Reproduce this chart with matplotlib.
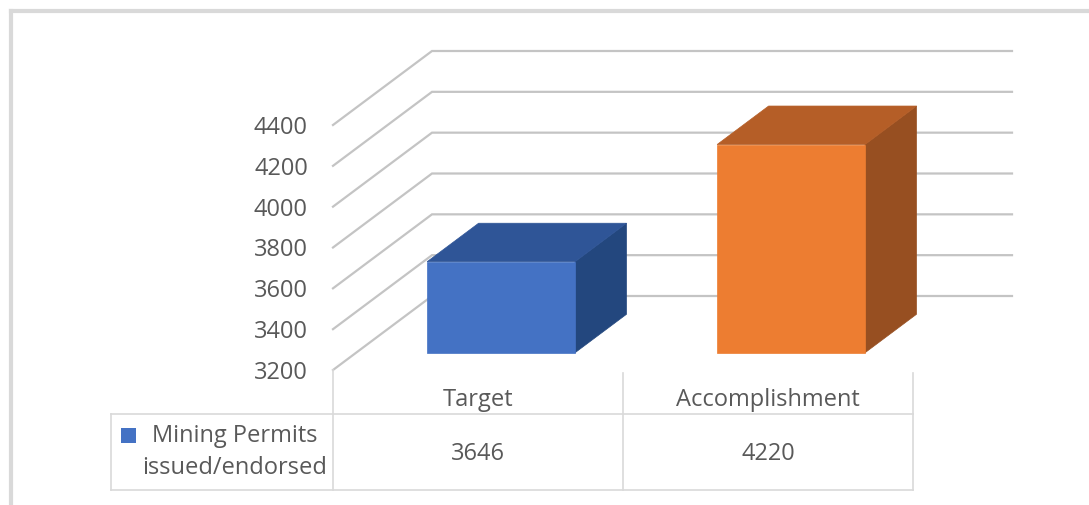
import matplotlib
matplotlib.use("Agg")
import matplotlib.pyplot as plt
import matplotlib.transforms as mtrans
from matplotlib.patches import Polygon, Rectangle
from matplotlib.lines import Line2D

# data
categories = ["Target", "Accomplishment"]
values = [3646, 4220]
series_name = ["Mining Permits", "issued/endorsed"]
yticks = [3200, 3400, 3600, 3800, 4000, 4200, 4400]

face_colors = ["#4472C4", "#ED7D31"]
top_colors = ["#2F5597", "#B55E27"]
side_colors = ["#23477E", "#974F21"]
text_c = "#595959"
grid_c = "#c4c4c4"
table_c = "#d9d9d9"

plt.rcParams["font.family"] = ["Open Sans", "DejaVu Sans"]
fsize = 17

W, H = 1089, 505
fig = plt.figure(figsize=(W / 100, H / 100), dpi=100)
ax = fig.add_axes([0, 0, 1, 1])
ax.axis("off")

# front plane of the 3d box: category 0 starts at px 333, 290 px per category,
# 3200 sits at px 370 and 1200 units take 245 px
x0_px, cat_px = 333, 290
v0, v0_px, v_per_px = yticks[0], 370, (yticks[-1] - yticks[0]) / 245
ax.set_xlim(-x0_px / cat_px, (W - x0_px) / cat_px)
ax.set_ylim(v0 - (H - v0_px) * v_per_px, v0 + v0_px * v_per_px)

# oblique depth offset (full depth of the box)
DX = 99 / cat_px
DV = 74 * v_per_px


def proj(x, v, d):
    return (x + d * DX, v + d * DV)


def fy(px):
    return 1 - px / H


# gridlines: diagonal on the left side wall, then along the back wall
n = len(categories)
off = mtrans.offset_copy(ax.transData, fig=fig, x=-25, y=-3, units="dots")
for v in yticks:
    p0, p1 = proj(0, v, 0), proj(0, v, 1)
    p2 = proj(n, v, 1)
    ax.plot([p0[0], p1[0], p2[0]], [p0[1], p1[1], p2[1]], color=grid_c,
            lw=1.6, solid_joinstyle="miter", zorder=1)
    ax.text(0, v, str(v), transform=off, ha="right", va="center",
            fontsize=fsize, color=text_c)

# 3d bars
bw, d_front, d_back = 0.51, 0.233, 0.753
for i, val in enumerate(values):
    xl, xr = i + 0.5 - bw / 2, i + 0.5 + bw / 2
    side = [proj(xr, v0, d_front), proj(xr, v0, d_back),
            proj(xr, val, d_back), proj(xr, val, d_front)]
    top = [proj(xl, val, d_front), proj(xr, val, d_front),
           proj(xr, val, d_back), proj(xl, val, d_back)]
    front = [proj(xl, v0, d_front), proj(xr, v0, d_front),
             proj(xr, val, d_front), proj(xl, val, d_front)]
    ax.add_patch(Polygon(side, closed=True, fc=side_colors[i], ec=side_colors[i], lw=0.5, zorder=3))
    ax.add_patch(Polygon(top, closed=True, fc=top_colors[i], ec=top_colors[i], lw=0.5, zorder=3))
    ax.add_patch(Polygon(front, closed=True, fc=face_colors[i], ec=face_colors[i], lw=0.5, zorder=4))

# data table under the chart
bt = mtrans.blended_transform_factory(ax.transData, ax.transAxes)
left_x = (111 - x0_px) / cat_px
tl = dict(color=table_c, lw=1.2, transform=bt, zorder=2)
ax.add_line(Line2D([left_x, n], [fy(414), fy(414)], **tl))
ax.add_line(Line2D([left_x, n], [fy(490), fy(490)], **tl))
ax.add_line(Line2D([left_x, left_x], [fy(414), fy(490)], **tl))
ax.add_line(Line2D([0, 0], [fy(370), fy(490)], **tl))
for i in range(1, n + 1):
    ax.add_line(Line2D([i, i], [fy(373), fy(490)], **tl))

for i, (cat, val) in enumerate(zip(categories, values)):
    ax.text(i + 0.5, fy(400), cat, transform=bt, ha="center", va="center",
            fontsize=fsize, color=text_c)
    ax.text(i + 0.5, fy(454), str(val), transform=bt, ha="center", va="center",
            fontsize=fsize, color=text_c)

# legend key inside the table
fig.patches.append(Rectangle((121 / W, fy(443)), 15 / W, 15 / H,
                             transform=fig.transFigure, fc=face_colors[0], ec="none"))
fig.text(235 / W, fy(436), series_name[0], ha="center", va="center",
         fontsize=fsize, color=text_c)
fig.text(235 / W, fy(468), series_name[1], ha="center", va="center",
         fontsize=fsize, color=text_c)

# chart area border (only top and left visible)
fig.add_artist(Line2D([10.5 / W, 10.5 / W], [0, fy(10.5)], color="#d9d9d9", lw=3))
fig.add_artist(Line2D([10.5 / W, 1], [fy(10.5), fy(10.5)], color="#d9d9d9", lw=3))

fig.savefig("out.png", dpi=100, facecolor="white")
